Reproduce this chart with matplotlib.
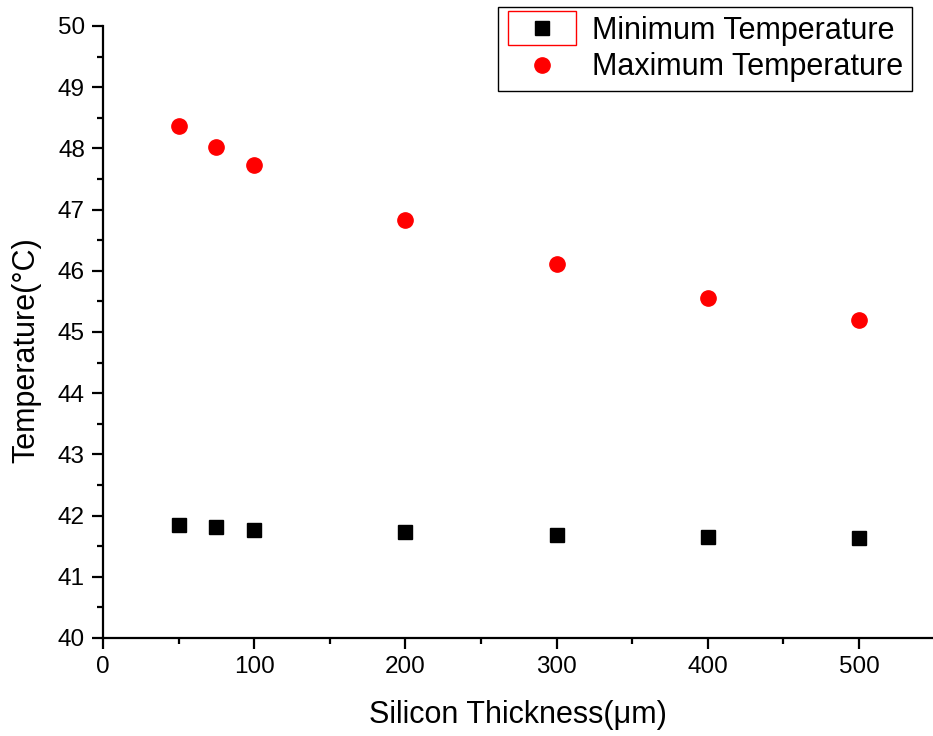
import matplotlib
matplotlib.use("Agg")
import matplotlib.pyplot as plt
from matplotlib.ticker import MultipleLocator
from matplotlib.patches import Rectangle

thickness = [50, 75, 100, 200, 300, 400, 500]
t_min = [41.85, 41.81, 41.77, 41.73, 41.68, 41.65, 41.63]
t_max = [48.37, 48.03, 47.73, 46.83, 46.11, 45.56, 45.20]

plt.rcParams['font.family'] = ['Liberation Sans', 'DejaVu Sans']

fig = plt.figure(figsize=(9.33, 7.36), dpi=100)
ax = fig.add_axes([103/933, 1-638/736, 1-103/933, (638-26)/736])

ax.plot(thickness, t_min, linestyle='none', marker='s', markersize=10, color='black', label='Minimum Temperature')
ax.plot(thickness, t_max, linestyle='none', marker='o', markersize=11, color='#ff0000', label='Maximum Temperature')

ax.set_xlim(0, 549)
ax.set_ylim(40, 50)
ax.xaxis.set_major_locator(MultipleLocator(100))
ax.xaxis.set_minor_locator(MultipleLocator(50))
ax.yaxis.set_major_locator(MultipleLocator(1))
ax.yaxis.set_minor_locator(MultipleLocator(0.5))
for s in ['top', 'right']:
    ax.spines[s].set_visible(False)
for s in ['left', 'bottom']:
    ax.spines[s].set_linewidth(1.6)
ax.tick_params(which='major', direction='out', length=8, width=1.6, labelsize=17.5, pad=5)
ax.tick_params(which='minor', direction='out', length=4.5, width=1.6)

ax.set_xlabel('Silicon Thickness(\u03bcm)', fontsize=22, labelpad=16)
ax.set_ylabel('Temperature(\u00b0C)', fontsize=22, labelpad=12)
ax.yaxis.label.set_y(0.47)

leg = ax.legend(loc='upper right', bbox_to_anchor=(912/933, 1-7/736), bbox_transform=fig.transFigure,
                fontsize=22, frameon=True, fancybox=False, edgecolor='black', framealpha=1,
                handletextpad=0.5, borderpad=0.3, labelspacing=0.2, handlelength=2.27,
                borderaxespad=0)
leg.get_frame().set_linewidth(1.0)

fig.canvas.draw()
r = fig.canvas.get_renderer()
bb = leg.legend_handles[0].get_window_extent(r)
cx, cy = (bb.x0 + bb.x1) / 2, (bb.y0 + bb.y1) / 2
W, H = fig.bbox.width, fig.bbox.height
fig.patches.append(Rectangle(((cx - 34) / W, (cy - 17) / H), 68 / W, 34 / H, transform=fig.transFigure,
                             fill=False, edgecolor='#ff0000', linewidth=1.0, zorder=10))

fig.savefig('out.png', dpi=100)
